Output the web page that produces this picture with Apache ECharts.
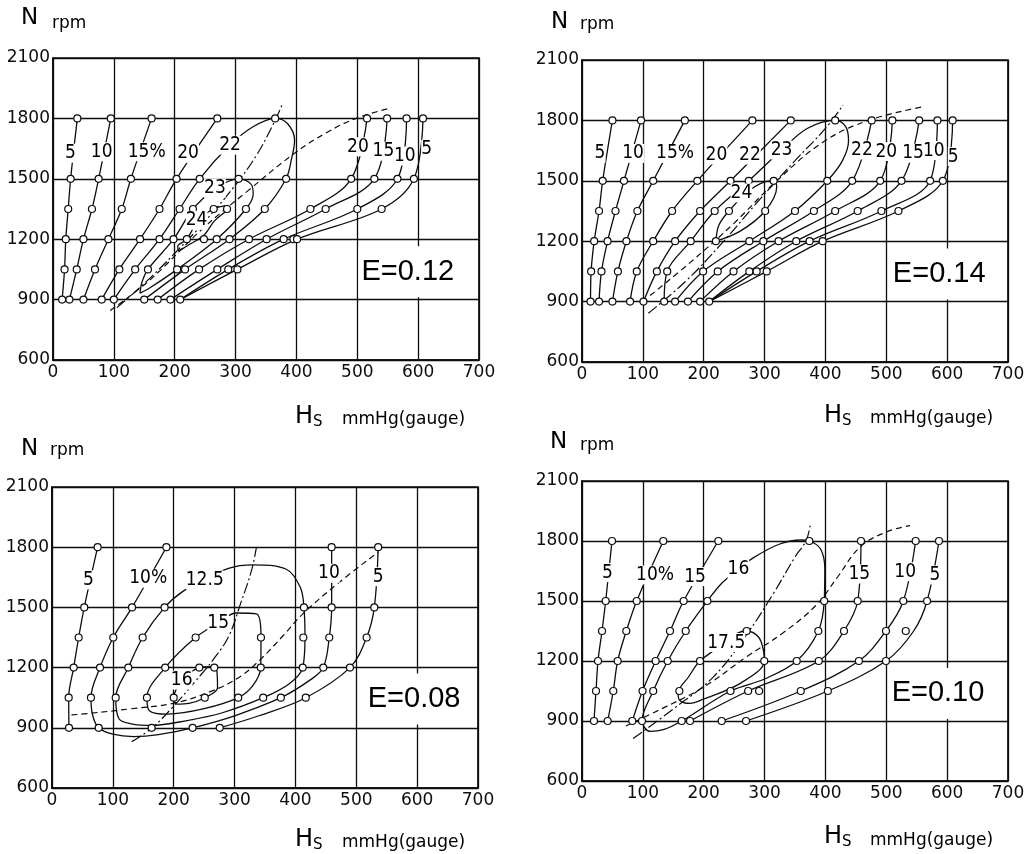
<!DOCTYPE html>
<html><head><meta charset="utf-8">
<script src="https://cdn.jsdelivr.net/npm/echarts/dist/echarts.min.js"></script>
<style>html,body{margin:0;padding:0;background:#fff}#c{width:1035px;height:854px}</style>
</head><body><div id="c"></div>
<script>
// ---------- axes ----------
const xTicks = [0,100,200,300,400,500,600,700];
const yTicks = [600,900,1200,1500,1800,2100];
const speedRows = [1800,1500,1350,1200,1050,900];

// ---------- E = 0.12 (top-left) ----------
const e12_pointsH = [
  [40,95,162,270,365,516,549,581,608],
  [29,75,128,203,241,305,383,490,528,566,593],
  [25,64,113,175,208,230,264,286,317,348,423,448,500,540],
  [21,50,91,143,175,198,220,248,269,290,322,351,379,395,401],
  [19,39,69,109,135,156,204,217,240,270,288,303],
  [15,27,50,80,100,150,172,193,209]
];
const e12_c5L  = [[40,1800],[29,1500],[25,1350],[21,1200],[19,1050],[15,900]];
const e12_c10L = [[95,1800],[75,1500],[64,1350],[50,1200],[39,1050],[27,900]];
const e12_c15L = [[162,1800],[128,1500],[113,1350],[91,1200],[69,1050],[50,900]];
const e12_c20L = [[270,1800],[203,1500],[175,1350],[143,1200],[109,1050],[80,900]];
const e12_c22  = [[100,900],[135,1050],[175,1200],[208,1350],[241,1500],[290,1665],[328,1757],[365,1800],[386,1772],[397,1690],[392,1600],[383,1500],[348,1350],[290,1200],[217,1050],[150,900]];
const e12_c23  = [[266,1453],[305,1500],[325,1475],[329,1425],[317,1350],[269,1200],[204,1050],[160,960],[143,932],[146,985],[156,1050],[198,1200],[230,1350],[266,1453]];
const e12_c24  = [[236,1294],[255,1335],[270,1358],[288,1368],[286,1345],[265,1290],[248,1220],[222,1170],[207,1145],[205,1165],[220,1200],[236,1294]];
const e12_c20R = [[172,900],[240,1050],[322,1200],[423,1350],[490,1500],[516,1800]];
const e12_c15R = [[193,900],[270,1050],[351,1200],[448,1350],[528,1500],[549,1800]];
const e12_c10R = [[209,900],[288,1050],[379,1200],[500,1350],[566,1500],[581,1800]];
const e12_c5R  = [[209,900],[303,1050],[401,1200],[540,1350],[593,1500],[608,1800]];
const e12_dash = [[94,846],[160,1000],[245,1250],[320,1440],[397,1627],[450,1730],[498,1800],[556,1853]];
const e12_dashdot = [[105,860],[150,980],[200,1130],[250,1290],[300,1470],[335,1620],[360,1760],[377,1870]];
const e12_labels = [[28.6,1627,'5'],[80,1634,'10'],[154,1634,'15%'],[222,1626,'20'],[291,1667,'22'],[266,1453,'23'],[236,1294,'24'],[501,1659,'20'],[543,1637,'15'],[578,1613,'10'],[614,1647,'5']];

// ---------- E = 0.14 (top-right) ----------
const e14_pointsH = [
  [50,97,169,280,343,416,476,510,554,584,609],
  [34,69,117,189.5,244,274,315,403,444,490,525,572,593],
  [28,55,91,148,194,218,241.5,301,350,381,416,453,492,520],
  [20,42,73,117,153,178.6,220,275,298,323,352,374,395.5],
  [15,32,59,90,123,140,199,223,249,275,287,303.5],
  [14,28,50,79,101,135,153,174,194,209]
];
const e14_c5L  = [[50,1800],[34,1500],[28,1350],[20,1200],[15,1050],[14,900]];
const e14_c10L = [[97,1800],[69,1500],[55,1350],[42,1200],[32,1050],[28,900]];
const e14_c15L = [[169,1800],[117,1500],[91,1350],[73,1200],[59,1050],[50,900]];
const e14_c20L = [[280,1800],[189.5,1500],[148,1350],[117,1200],[90,1050],[79,900]];
const e14_c22L = [[343,1800],[244,1500],[194,1350],[153,1200],[123,1050],[101,900]];
const e14_c23  = [[135,900],[140,1050],[178.6,1200],[218,1350],[274,1500],[328,1653],[370,1760],[416,1800],[433,1770],[438,1700],[428,1600],[403,1500],[350,1350],[275,1200],[199,1050],[153,900]];
const e14_c24  = [[220,1200],[225,1280],[241.5,1350],[270,1440],[300,1495],[315,1500],[320,1470],[301,1350],[260,1250],[220,1200]];
const e14_c22R = [[174,900],[223,1050],[298,1200],[381,1350],[444,1500],[476,1800]];
const e14_c20R = [[194,900],[249,1050],[323,1200],[416,1350],[490,1500],[510,1800]];
const e14_c15R = [[209,900],[275,1050],[352,1200],[453,1350],[525,1500],[554,1800]];
const e14_c10R = [[209,900],[287,1050],[374,1200],[492,1350],[572,1500],[584,1800]];
const e14_c5R  = [[209,900],[303.5,1050],[395.5,1200],[520,1350],[593,1500],[609,1800]];
const e14_dash = [[112,930],[180,1100],[250,1290],[320,1500],[400,1700],[473,1802],[561,1868]];
const e14_dashdot = [[109,842],[170,1000],[230,1190],[290,1400],[350,1600],[400,1760],[429,1876]];
const e14_labels = [[29.6,1636,'5'],[84,1636,'10'],[153,1636,'15%'],[221,1628,'20'],[276,1628,'22'],[328,1653,'23'],[262,1440,'24'],[460,1653,'22'],[500,1645,'20'],[544,1637,'15'],[578,1650,'10'],[610,1620,'5']];

// ---------- E = 0.08 (bottom-left) ----------
const e08_pointsH = [
  [75,188,459.5,536],
  [53,131.5,185,414,459.5,529.6],
  [43.8,100.7,149,236,343.4,413,455.6,517],
  [35.6,78.9,125.4,186,242,266.7,343,412,445.8,489.6],
  [27.4,64,104.7,156,200,251,306,347,376,417],
  [27.9,76.7,163.8,231,275.6]
];
const e08_c5L  = [[75,1800],[53,1500],[43.8,1350],[35.6,1200],[27.4,1050],[27.9,900]];
const e08_c10  = [[188,1800],[131.5,1500],[100.7,1350],[78.9,1200],[64,1050],[67,960],[76.7,900],[100,868],[134,856],[175,866],[231,900],[300,960],[376,1050],[425,1140],[445.8,1200],[455.6,1350],[459.5,1500],[459.5,1800]];
const e08_c12  = [[251,1637],[290,1695],[330,1712],[385,1690],[408,1600],[414,1500],[415.7,1350],[412,1200],[390,1120],[347,1050],[280,975],[220,935],[163.8,912],[130,920],[110,945],[104.7,1050],[125.4,1200],[149,1350],[185,1500],[215,1580],[251,1637]];
const e08_c15  = [[273,1421],[303,1472],[336,1468],[343,1400],[343.4,1350],[343,1200],[330,1110],[306,1050],[250,995],[190,968],[160,985],[156,1050],[186,1200],[236,1350],[273,1421]];
const e08_c16  = [[213,1138],[242,1200],[262,1205],[271,1180],[272,1100],[251,1050],[225,1022],[205,1018],[200,1050],[213,1138]];
const e08_c5R  = [[275.6,900],[340,960],[417,1050],[489.6,1200],[517,1350],[529.6,1500],[536,1800]];
const e08_dash = [[32,964],[62,972],[130,995],[199,1022],[260,1080],[309,1155],[347,1254],[380,1360],[413,1470],[470,1620],[536,1775]];
const e08_dashdot = [[131,831],[164,898],[199,1005],[235,1130],[265,1240],[290,1354],[310,1520],[328,1686],[336,1802]];
const e08_labels = [[59.7,1637,'5'],[158,1645,'10%'],[251,1637,'12.5'],[273,1421,'15'],[213,1138,'16'],[455,1670,'10'],[536,1653,'5']];

// ---------- E = 0.10 (bottom-right) ----------
const e10_pointsH = [
  [49.3,133.6,224,373.5,458.4,548.3,586.6],
  [38.9,89.9,167,206,398,453,528,567],
  [32.9,72.8,144.6,170.4,270.6,388.3,430.5,499.5,532],
  [26.3,58.6,121,140.8,193.9,299.5,352.8,389,455,499.5],
  [23,51.4,99.5,117,160,244,273,291,359.5,404],
  [19.7,42.2,82.6,98.6,163.8,177.5,229.5,269.5]
];
const e10_c5L  = [[49.3,1800],[38.9,1500],[32.9,1350],[26.3,1200],[23,1050],[19.7,900]];
const e10_c10L = [[133.6,1800],[89.9,1500],[72.8,1350],[58.6,1200],[51.4,1050],[42.2,900]];
const e10_c15L = [[224,1800],[167,1500],[144.6,1350],[121,1200],[99.5,1050],[82.6,900]];
const e10_c16  = [[257,1658],[282,1717],[325,1785],[360,1805],[373.5,1800],[392,1760],[399,1660],[398,1500],[388.3,1350],[352.8,1200],[300,1110],[244,1050],[163.8,900],[135,858],[112,848],[98.6,900],[117,1050],[140.8,1200],[170.4,1350],[206,1500],[230,1590],[257,1658]];
const e10_c175 = [[237,1292],[255,1338],[270.6,1350],[290,1320],[298,1255],[299.5,1200],[260,1088],[200,1010],[177.5,988],[160,1005],[158,1040],[175,1120],[193.9,1200],[237,1292]];
const e10_c15R = [[177.5,900],[273,1050],[389,1200],[430.5,1350],[453,1500],[458.4,1800]];
const e10_c10R = [[229.5,900],[359.5,1050],[455,1200],[499.5,1350],[528,1500],[548.3,1800]];
const e10_c5R  = [[269.5,900],[404,1050],[499.5,1200],[545,1350],[567,1500],[586.6,1800]];
const e10_dash = [[72,875],[130,960],[200,1070],[270,1220],[330,1340],[385,1480],[420,1620],[457,1770],[500,1845],[539,1877]];
const e10_dashdot = [[84,812],[150,960],[216,1121],[270,1330],[315,1540],[350,1720],[368,1800],[375,1880]];
const e10_labels = [[41.6,1642,'5'],[120,1630,'10%'],[185.7,1622,'15'],[257,1658,'16'],[237,1292,'17.5'],[455.7,1635,'15'],[531,1647,'10'],[580,1630,'5']];

// ---------- panel assembly ----------
const eTexts = ['E=0.12','E=0.14','E=0.08','E=0.10'];
const eLabelAt = [[583,1038],[587,1037],[595,1044],[585,1038]];

const panels = [
  {grid:{left:53,top:58,width:426,height:302}, curves:[e12_c5L,e12_c10L,e12_c15L,e12_c20L,e12_c22,e12_c23,e12_c24,e12_c20R,e12_c15R,e12_c10R,e12_c5R], dash:e12_dash, dashdot:e12_dashdot, pts:e12_pointsH, labels:e12_labels},
  {grid:{left:582,top:60,width:426,height:302}, curves:[e14_c5L,e14_c10L,e14_c15L,e14_c20L,e14_c22L,e14_c23,e14_c24,e14_c22R,e14_c20R,e14_c15R,e14_c10R,e14_c5R], dash:e14_dash, dashdot:e14_dashdot, pts:e14_pointsH, labels:e14_labels},
  {grid:{left:52,top:487,width:426,height:301}, curves:[e08_c5L,e08_c10,e08_c12,e08_c15,e08_c16,e08_c5R], dash:e08_dash, dashdot:e08_dashdot, pts:e08_pointsH, labels:e08_labels},
  {grid:{left:582,top:481,width:426,height:300}, curves:[e10_c5L,e10_c10L,e10_c15L,e10_c16,e10_c175,e10_c15R,e10_c10R,e10_c5R], dash:e10_dash, dashdot:e10_dashdot, pts:e10_pointsH, labels:e10_labels}
];

const INK = '#0d0d0d';
const NARROW = "'Liberation Sans Narrow','DejaVu Sans Condensed','Liberation Sans',sans-serif";
const plain = v => String(v);
const grids=[], xAxes=[], yAxes=[], series=[];
panels.forEach((p,i)=>{
  grids.push(Object.assign({show:true, borderColor:INK, borderWidth:1.7, backgroundColor:'#fff', containLabel:false, outerBoundsMode:'none'}, p.grid));
  xAxes.push({gridIndex:i, type:'value', min:xTicks[0], max:xTicks[xTicks.length-1], interval:xTicks[1]-xTicks[0],
    axisLine:{show:true,onZero:false,lineStyle:{color:INK,width:1.7}}, axisTick:{show:false},
    splitLine:{show:true,lineStyle:{color:INK,width:1.3}},
    axisLabel:{color:INK,fontSize:17,fontFamily:'DejaVu Sans',margin:4,formatter:plain,showMinLabel:true,showMaxLabel:true}});
  yAxes.push({gridIndex:i, type:'value', min:yTicks[0], max:yTicks[yTicks.length-1], interval:yTicks[1]-yTicks[0],
    axisLine:{show:true,onZero:false,lineStyle:{color:INK,width:1.7}}, axisTick:{show:false},
    splitLine:{show:true,lineStyle:{color:INK,width:1.3}},
    axisLabel:{color:INK,fontSize:17,fontFamily:'DejaVu Sans',margin:3,formatter:plain,showMinLabel:true,showMaxLabel:true}});
  const base = {xAxisIndex:i, yAxisIndex:i, silent:true, animation:false};
  p.curves.forEach(c=>series.push(Object.assign({type:'line', data:c, smooth:0.35, symbol:'none', showSymbol:false,
    lineStyle:{color:INK,width:1.3}, z:3}, base)));
  series.push(Object.assign({type:'line', data:p.dash, smooth:0.4, symbol:'none', showSymbol:false,
    lineStyle:{color:INK,width:1.2,type:[6,4]}, z:3}, base));
  series.push(Object.assign({type:'line', data:p.dashdot, smooth:0.4, symbol:'none', showSymbol:false,
    lineStyle:{color:INK,width:1.2,type:[11,3,2,3]}, z:3}, base));
  const pts=[];
  p.pts.forEach((row,ri)=>row.forEach(h=>pts.push([h,speedRows[ri]])));
  series.push(Object.assign({type:'scatter', data:pts, symbol:'circle', symbolSize:7,
    itemStyle:{color:'#fff',borderColor:INK,borderWidth:1.2,opacity:1}, z:5}, base));
  series.push(Object.assign({type:'scatter', data:p.labels.map(l=>({value:[l[0],l[1]],name:l[2]})), symbolSize:1,
    itemStyle:{color:'rgba(0,0,0,0)',opacity:1},
    label:{show:true,position:'inside',formatter:q=>q.name,color:'#000',fontSize:19,fontFamily:NARROW,
      backgroundColor:'#fff',padding:[0,0]}, z:6}, base));
  series.push(Object.assign({type:'scatter', data:[{value:eLabelAt[i],name:eTexts[i]}], symbolSize:1,
    itemStyle:{color:'rgba(0,0,0,0)',opacity:1},
    label:{show:true,position:'inside',formatter:q=>q.name,color:'#000',fontSize:29,fontFamily:'Liberation Sans',
      backgroundColor:'#fff',padding:[11,3]}, z:7}, base));
});

// axis titles
const nPos  = [[21,18,52,24],[551,22,580,25],[21,449,50,451],[550,442,580,446]];
const hPos  = [[295,417,313,422,342,420],[824,416,842,421,870,419],[295,840,313,845,342,843],[824,837,842,842,870,841]];
const graphic=[];
nPos.forEach(a=>{
  graphic.push({type:'text',x:a[0],y:a[1],style:{text:'N',font:'23px "DejaVu Sans"',fill:'#000',verticalAlign:'middle'}});
  graphic.push({type:'text',x:a[2],y:a[3],style:{text:'rpm',font:'17px "DejaVu Sans"',fill:'#000',verticalAlign:'middle'}});
});
hPos.forEach(a=>{
  graphic.push({type:'text',x:a[0],y:a[1],style:{text:'H',font:'24px "DejaVu Sans"',fill:'#000',verticalAlign:'middle'}});
  graphic.push({type:'text',x:a[2],y:a[3],style:{text:'S',font:'15px "DejaVu Sans"',fill:'#000',verticalAlign:'middle'}});
  graphic.push({type:'text',x:a[4],y:a[5],style:{text:'mmHg(gauge)',font:'17px "DejaVu Sans"',fill:'#000',verticalAlign:'middle'}});
});

const chart = echarts.init(document.getElementById('c'), null, {renderer:'canvas'});
chart.setOption({backgroundColor:'#fff', animation:false, grid:grids, xAxis:xAxes, yAxis:yAxes, series:series, graphic:graphic});
</script></body></html>
